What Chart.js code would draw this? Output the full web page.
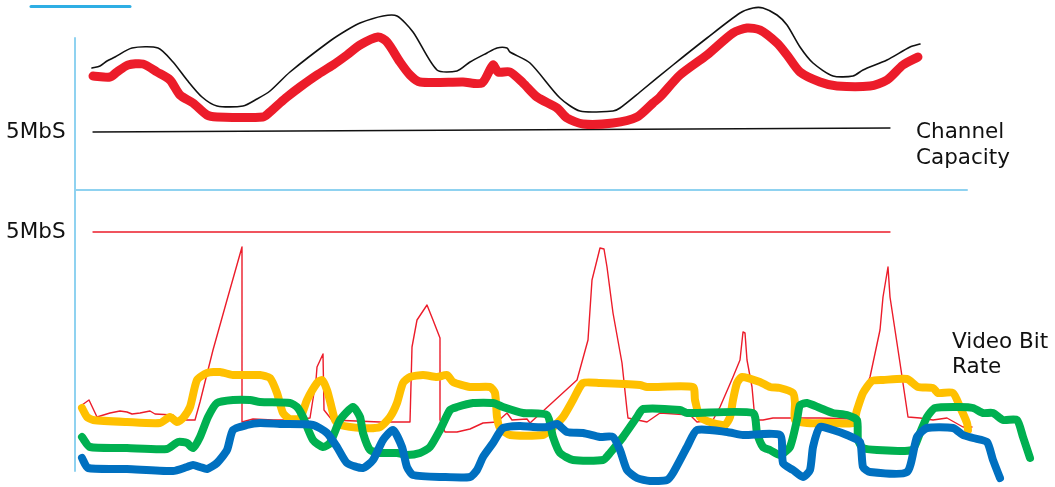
<!DOCTYPE html>
<html lang="en">
<head>
  <meta charset="UTF-8">
  <title>Channel Capacity vs Video Bit Rate</title>
  <script src="https://cdn.jsdelivr.net/npm/chart.js"></script>
  <style>
    body { margin: 0; background: #fff; }
    #wrap { position: relative; width: 1055px; height: 487px; overflow: hidden; }
    canvas { position: absolute; left: 0; top: 0; }
    .lbl { position: absolute; font-family: 'DejaVu Sans', sans-serif; font-size: 21.5px; color: #111; white-space: nowrap; }
  </style>
</head>
<body>
  <div id="wrap">
    <canvas id="sketch" width="1055" height="487"></canvas>
    <div class="lbl" style="left:6px; top:120px; line-height:21px;">5MbS</div>
    <div class="lbl" style="left:6px; top:220px; line-height:21px;">5MbS</div>
    <div class="lbl" style="left:916px; top:118px; line-height:26px;">Channel<br>Capacity</div>
    <div class="lbl" style="left:952px; top:328px; line-height:25px;">Video Bit<br>Rate</div>
  </div>

  <script>
    // values: [time, level] (level counted downwards, as drawn)
    const capacityLine = [[92,68],[100,66],[107,61],[115,57],[132,48],[158,48],[173,62],[187,80],[202,97],[217,106],[243,106],[257,99],[270,91],[290,72],[330,41],[347,30],[360,23],[383,16],[397,16],[413,32],[437,70],[457,71],[470,62],[487,53],[497,48],[507,48],[510,52],[530,63],[560,98],[580,111],[613,111],[620,108],[640,92],[673,65],[707,38],[740,13],[753,8],[763,8],[777,15],[787,25],[800,47],[813,63],[833,76],[853,76],[863,70],[887,60],[910,47],[920,44]];
    const usedCapacity = [[93,76],[110,77],[117,72],[128,65],[143,64],[157,72],[170,80],[180,95],[193,103],[207,115],[217,117],[263,117],[270,112],[280,103],[287,97],[300,87],[317,75],[333,65],[347,55],[360,45],[378,37],[387,42],[400,62],[410,75],[420,82],[463,82],[482,83],[493,65],[498,72],[510,72],[523,83],[537,97],[557,108],[567,118],[583,124],[613,123],[637,117],[653,103],[660,97],[680,75],[707,55],[733,33],[747,28],[760,30],[777,43],[787,55],[800,72],[820,82],[837,86],[870,86],[887,80],[903,65],[918,57]];
    const topLimit = [[93,132],[890,128]];
    const bottomLimit = [[93,232],[890,232]];

    const peakRate = [[82,405],[89,400],[97,417],[110,413],[120,411],[127,412],[132,414],[140,413],[150,411],[155,414],[173,415],[177,420],[195,420],[200,402],[213,350],[227,300],[242,247],[242,422],[253,419],[273,420],[293,420],[310,418],[316,380],[317,367],[323,354],[324,410],[332,420],[380,422],[410,422],[412,347],[417,320],[427,305],[433,320],[440,338],[440,420],[445,432],[457,432],[470,429],[483,423],[497,422],[507,413],[512,420],[527,419],[530,423],[577,380],[588,340],[592,280],[600,248],[604,249],[607,267],[613,313],[622,363],[627,410],[628,418],[647,422],[660,413],[690,415],[697,422],[713,420],[720,407],[733,377],[740,360],[743,332],[745,333],[747,360],[752,387],[755,420],[763,420],[773,418],[820,418],[853,419],[870,377],[880,330],[883,297],[888,267],[890,297],[900,363],[908,417],[920,418],[933,420],[947,418],[963,427],[972,427]];
    const yellowRate = [[82,408],[87,417],[93,420],[127,422],[160,423],[170,417],[177,422],[183,418],[190,407],[197,380],[207,373],[220,372],[233,375],[260,375],[270,378],[277,393],[283,413],[290,419],[300,418],[307,400],[317,383],[322,380],[327,390],[331,405],[335,420],[340,425],[363,428],[380,427],[390,417],[397,403],[403,383],[410,377],[423,375],[437,377],[447,375],[453,382],[470,387],[490,387],[495,393],[497,417],[500,428],[510,435],[543,435],[550,430],[563,417],[573,400],[583,383],[600,383],[640,385],[647,387],[693,387],[695,400],[700,417],[713,423],[725,425],[730,417],[733,400],[737,383],[742,377],[760,382],[770,387],[780,388],[793,393],[795,403],[795,420],[807,423],[833,423],[853,423],[857,410],[863,393],[872,381],[883,380],[907,379],[918,387],[933,388],[938,393],[953,393],[960,407],[967,423],[968,430]];
    const greenRate = [[82,437],[90,447],[127,448],[167,449],[178,442],[187,443],[193,448],[200,437],[208,417],[217,403],[233,400],[250,400],[260,402],[290,403],[297,407],[303,417],[313,440],[323,447],[330,443],[340,420],[353,407],[360,417],[363,433],[370,450],[380,453],[397,453],[407,455],[420,453],[430,447],[440,430],[450,410],[457,407],[473,403],[493,403],[503,407],[523,413],[547,415],[553,437],[560,453],[573,460],[603,460],[610,453],[623,437],[637,417],[643,409],[680,410],[687,413],[753,413],[757,433],[763,447],[770,450],[780,455],[790,447],[797,420],[800,405],[807,403],[820,408],[833,413],[847,415],[857,420],[858,440],[863,448],[877,450],[912,450],[920,433],[927,417],[935,408],[960,407],[973,408],[983,413],[993,413],[1003,420],[1017,420],[1023,437],[1030,458]];
    const blueRate = [[82,458],[88,468],[127,469],[173,471],[187,467],[193,465],[200,467],[207,469],[217,463],[227,450],[233,430],[247,425],[260,423],[280,424],[313,425],[327,433],[337,447],[347,463],[363,468],[373,460],[383,440],[393,430],[402,447],[407,467],[413,475],[443,477],[470,477],[477,470],[483,457],[493,443],[503,428],[520,426],[533,427],[547,427],[557,424],[567,432],[583,433],[600,437],[613,437],[620,450],[627,470],[637,478],[650,481],[667,480],[673,473],[687,447],[697,430],[727,432],[743,435],[780,435],[783,463],[793,470],[803,477],[810,470],[813,447],[820,427],[833,430],[847,435],[860,442],[863,467],[870,472],[907,472],[917,437],[927,428],[953,428],[963,435],[973,438],[987,442],[993,460],[1000,478]];

    // sketch axes
    const axisVertical = [[75,38],[75,471]];
    const axisDivider = [[75,190],[967,190]];
    const topMark = [[31,6.5],[130,6.5]];

    const pts = arr => arr.map(([x, y]) => ({ x, y }));
    const line = (data, color, width, order, tension) => ({
      data: pts(data), borderColor: color, borderWidth: width, order: order,
      tension: tension, borderCapStyle: 'round', borderJoinStyle: 'round', pointRadius: 0, fill: false
    });

    new Chart(document.getElementById('sketch'), {
      type: 'line',
      data: {
        datasets: [
          line(axisVertical, '#8fd2f0', 2, 9, 0),
          line(axisDivider, '#8fd2f0', 2, 9, 0),
          line(topMark, '#2eaee4', 3, 9, 0),
          line(topLimit, '#111111', 1.3, 8, 0),
          line(capacityLine, '#111111', 1.6, 7, 0.25),
          line(usedCapacity, '#ec1c2a', 9, 6, 0.25),
          line(bottomLimit, '#ec1c2a', 1.3, 8, 0),
          line(peakRate, '#ec1c2a', 1.4, 5, 0),
          line(yellowRate, '#ffc000', 8, 4, 0.2),
          line(greenRate, '#00b050', 8, 3, 0.2),
          line(blueRate, '#0070c0', 8, 2, 0.2)
        ]
      },
      options: {
        responsive: false,
        animation: false,
        layout: { padding: 0 },
        plugins: { legend: { display: false }, tooltip: { enabled: false } },
        scales: {
          x: { type: 'linear', min: 0, max: 1055, display: false },
          y: { type: 'linear', min: 0, max: 487, reverse: true, display: false }
        }
      }
    });
  </script>
</body>
</html>
